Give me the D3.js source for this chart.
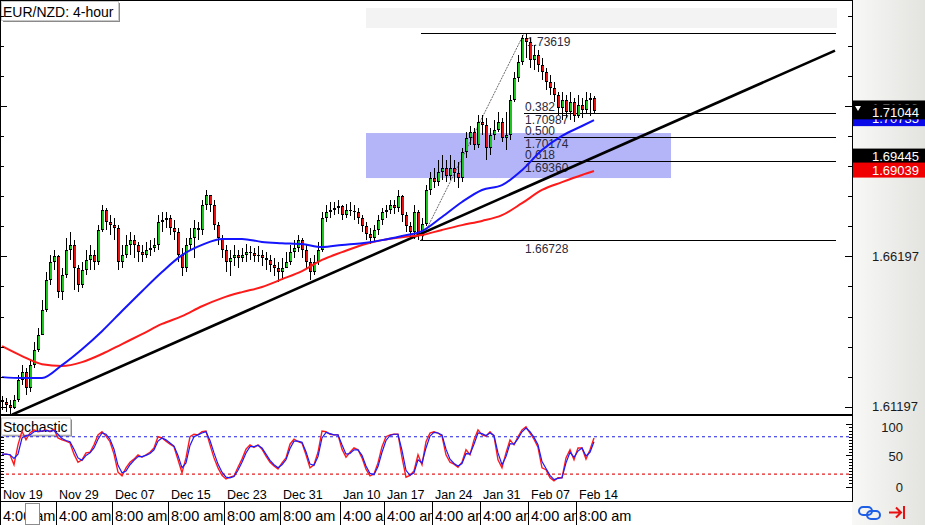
<!DOCTYPE html>
<html><head><meta charset="utf-8">
<script src="https://cdn.jsdelivr.net/npm/d3@7"></script>
<style>
html,body{margin:0;padding:0;background:#fff;overflow:hidden}
svg{display:block;font-family:"Liberation Sans",Arial,sans-serif}
</style></head><body>
<svg id="c" width="925" height="525"></svg>
<script>
// ---------- data ----------
const firstOpen = 1.6141;
const closes = [
1.6135,1.6125,1.6115,1.6141,1.6208,1.6235,1.6181,1.6258,1.6308,1.6358,
1.6441,1.6541,1.6601,1.6621,1.6501,1.6558,1.6641,1.6658,1.6581,1.6524,
1.6574,1.6608,1.6624,1.6601,1.6708,1.6774,1.6734,1.6724,1.6714,1.6601,
1.6624,1.6658,1.6674,1.6658,1.6634,1.6624,1.6641,1.6648,1.6658,1.6734,
1.6741,1.6747,1.6714,1.6701,1.6624,1.6581,1.6658,1.6681,1.6714,1.6708,
1.6791,1.6824,1.6791,1.6724,1.6681,1.6641,1.6601,1.6614,1.6624,1.6614,
1.6624,1.6634,1.6630,1.6621,1.6624,1.6614,1.6608,1.6591,1.6581,1.6568,
1.6581,1.6601,1.6634,1.6648,1.6674,1.6641,1.6601,1.6568,1.6601,1.6641,
1.6747,1.6767,1.6774,1.6781,1.6787,1.6757,1.6774,1.6770,1.6767,1.6747,
1.6721,1.6694,1.6681,1.6708,1.6741,1.6767,1.6774,1.6791,1.6781,1.6821,
1.6757,1.6721,1.6701,1.6767,1.6688,1.6728,1.6841,1.6881,1.6867,1.6901,
1.6914,1.6887,1.6914,1.6897,1.6881,1.6967,1.7014,1.7034,1.6991,1.7067,
1.7057,1.6981,1.7024,1.7041,1.7067,1.7014,1.7024,1.7140,1.7214,1.7267,
1.7347,1.7334,1.7274,1.7290,1.7257,1.7234,1.7200,1.7180,1.7157,1.7114,
1.7140,1.7100,1.7134,1.7087,1.7124,1.7107,1.7140,1.7147,1.71044];
const highs = [
1.6155,1.6148,1.6141,1.6158,1.6225,1.6258,1.6248,1.6275,1.6335,1.6381,
1.6474,1.6568,1.6624,1.6641,1.6624,1.6581,1.6681,1.6701,1.6674,1.6591,
1.6601,1.6641,1.6658,1.6641,1.6724,1.6791,1.6781,1.6757,1.6747,1.6724,
1.6658,1.6691,1.6701,1.6691,1.6668,1.6658,1.6668,1.6674,1.6681,1.6757,
1.6767,1.6767,1.6757,1.6741,1.6714,1.6648,1.6681,1.6714,1.6741,1.6734,
1.6807,1.6841,1.6824,1.6807,1.6734,1.6691,1.6658,1.6641,1.6658,1.6641,
1.6648,1.6661,1.6654,1.6648,1.6654,1.6641,1.6634,1.6624,1.6614,1.6601,
1.6614,1.6634,1.6658,1.6674,1.6691,1.6681,1.6658,1.6614,1.6624,1.6668,
1.6767,1.6791,1.6801,1.6801,1.6807,1.6791,1.6794,1.6801,1.6791,1.6781,
1.6757,1.6734,1.6714,1.6724,1.6757,1.6781,1.6791,1.6807,1.6807,1.6841,
1.6824,1.6767,1.6734,1.6791,1.6774,1.6747,1.6857,1.6901,1.6914,1.6941,
1.6957,1.6941,1.6957,1.6941,1.6934,1.6981,1.7034,1.7054,1.7047,1.7090,
1.7090,1.7080,1.7047,1.7074,1.7100,1.7080,1.7100,1.7157,1.7234,1.7290,
1.7357,1.73619,1.7347,1.7324,1.7307,1.7280,1.7247,1.7224,1.7200,1.7167,
1.7167,1.7157,1.7167,1.7147,1.7157,1.7147,1.7167,1.7164,1.7154];
const lows = [
1.6108,1.6101,1.6095,1.6111,1.6135,1.6191,1.6158,1.6168,1.6248,1.6301,
1.6358,1.6434,1.6524,1.6574,1.6481,1.6474,1.6548,1.6608,1.6508,1.6501,
1.6514,1.6558,1.6574,1.6574,1.6591,1.6701,1.6708,1.6691,1.6674,1.6574,
1.6581,1.6614,1.6624,1.6614,1.6601,1.6601,1.6614,1.6621,1.6634,1.6641,
1.6701,1.6714,1.6691,1.6674,1.6601,1.6554,1.6568,1.6641,1.6614,1.6674,
1.6691,1.6774,1.6767,1.6708,1.6658,1.6614,1.6568,1.6554,1.6588,1.6581,
1.6601,1.6601,1.6608,1.6601,1.6601,1.6588,1.6574,1.6568,1.6554,1.6534,
1.6541,1.6581,1.6591,1.6614,1.6634,1.6614,1.6581,1.6541,1.6558,1.6591,
1.6634,1.6734,1.6747,1.6757,1.6761,1.6741,1.6747,1.6754,1.6741,1.6728,
1.6701,1.6674,1.6661,1.6668,1.6691,1.6724,1.6747,1.6761,1.6761,1.6767,
1.6734,1.6701,1.6681,1.6678,1.6675,1.66728,1.6721,1.6824,1.6847,1.6854,
1.6874,1.6867,1.6874,1.6867,1.6847,1.6867,1.6947,1.6991,1.6974,1.6981,
1.7024,1.6941,1.6957,1.7007,1.7034,1.7001,1.6974,1.7007,1.7134,1.7200,
1.7257,1.7280,1.7247,1.7240,1.7234,1.7207,1.7174,1.7157,1.7134,1.7090,
1.7074,1.7080,1.7074,1.7067,1.7080,1.7080,1.7094,1.7087,1.7097];

const maIdx = [0,5,10,15,20,25,30,35,40,45,50,55,60,65,70,75,80,85,90,95,100,105,110,115,120,125,130,135,140,145,148];
const maBlue = [1.6218,1.6215,1.6215,1.6258,1.6311,1.6371,1.6438,1.6504,1.6568,1.6624,1.6658,1.6678,1.6678,1.6668,1.6664,1.6661,1.6651,1.6658,1.6664,1.6674,1.6688,1.6704,1.6751,1.6801,1.6841,1.6857,1.6907,1.6974,1.7021,1.7054,1.70735];
const maRed  = [1.6321,1.6288,1.6261,1.6255,1.6268,1.6295,1.6328,1.6361,1.6395,1.6421,1.6454,1.6481,1.6501,1.6518,1.6544,1.6571,1.6608,1.6634,1.6658,1.6674,1.6684,1.6691,1.6708,1.6724,1.6738,1.6757,1.6797,1.6841,1.6867,1.6891,1.69039];

const stochK = [
51,52,51,35,67,89,75,86,91,88, 89,91,88,92,78,75,73,70,52,39,
43,54,55,67,83,88,81,72,52,23, 17,30,39,44,51,47,51,55,62,80,
78,73,68,64,43,22,46,80,84,83, 88,89,67,46,30,18,12,15,17,31,
44,60,67,63,67,60,49,39,33,28, 38,46,68,76,72,70,51,30,35,55,
89,88,84,83,83,60,47,55,62,59, 46,28,17,20,38,64,80,83,84,84,
47,15,18,25,51,35,72,86,88,86, 81,51,39,36,31,39,59,51,75,91,
83,81,88,81,43,30,54,75,67,80, 91,96,86,76,63,30,27,14,9,14,
14,46,59,43,62,62,44,59,78];
const stochD = [
52,52,51,45,52,78,82,83,88,89, 89,90,89,90,84,77,74,72,60,46,
42,50,54,62,76,86,84,76,60,34, 22,25,35,42,48,48,50,53,59,73,
78,75,70,65,50,30,38,66,80,83, 86,88,74,54,36,23,15,14,16,26,
39,54,64,64,66,62,52,42,35,30, 35,43,61,73,73,71,56,36,34,48,
78,87,85,83,83,67,52,53,59,59, 50,33,21,19,32,55,74,82,84,84,
58,26,18,22,43,38,62,81,87,86, 83,60,44,37,33,37,53,52,68,86,
85,82,86,82,54,35,48,69,68,77, 88,94,88,79,67,40,29,18,11,13,
14,38,55,47,57,62,49,55,72];
const stochLevels = [80, 20];

const dateLabels = ["Nov 19","Nov 29","Dec 07","Dec 15","Dec 23","Dec 31","Jan 10","Jan 17","Jan 24","Jan 31","Feb 07","Feb 14"];
const timeLabels = ["4:00 am","4:00 am","8:00 am","8:00 am","8:00 am","8:00 am","4:00 am","4:00 am","4:00 am","4:00 am","4:00 am","8:00 am"];
const labelIdx = [0,14,28,42,56,70,85,96,108,120,132,144];

const priceTicks = [1.61197,1.62197,1.63197,1.64197,1.65197,1.66197,1.67197,1.68197,1.69197,1.70197,1.71197,1.72197,1.73197,1.74197];
const priceLabels = [1.61197, 1.66197, 1.71197];
const stochTicks = [0,5,10,15,20,25,30,35,40,45,50,55,60,65,70,75,80,85,90,95,100];
const stochLabels = [100, 50, 0];

const fibHigh = 1.73619, fibLow = 1.66728;
const fibLevels = ["0.382","0.500","0.618"];
const fibPrices = [1.70987, 1.70174, 1.69360];
const fibIdx = {low:104.75, high:130.5, end:208.4};
const zoneIdx = [91, 167.25];
const zonePrices = [1.70305, 1.68807];
const trendIdx = [2.5, 208.25];
const trendPrices = [1.6093, 1.7305];

const lastPrice = 1.71044, hiddenPrice = 1.71106, otherPrice = 1.69445;
const blueLast = 1.70735, redLast = 1.69039;

// ---------- drawing ----------
const W = 925, H = 525, PR = 852, MB = 415;
const svg = d3.select("#c");
const x = d3.scaleLinear().domain([0, 148]).range([2, 594]);
const y = d3.scaleLinear().domain([1.60919, 1.74734]).range([MB, 0]);
const ys = d3.scaleLinear().domain([0, 100]).range([486.5, 424.3]);

const defs = svg.append("defs");
const grad = defs.append("linearGradient").attr("id","rp").attr("x1",0).attr("x2",1).attr("y1",0).attr("y2",0);
grad.append("stop").attr("offset",0).attr("stop-color","#f8f8f6");
grad.append("stop").attr("offset",1).attr("stop-color","#e3e3e0");
defs.append("clipPath").attr("id","cm").append("rect").attr("x",0).attr("y",0).attr("width",PR).attr("height",MB);
defs.append("clipPath").attr("id","cs").append("rect").attr("x",0).attr("y",416).attr("width",PR).attr("height",85);

svg.append("rect").attr("width",W).attr("height",H).attr("fill","#fff");
svg.append("rect").attr("x",PR).attr("y",0).attr("width",W-PR).attr("height",H).attr("fill","url(#rp)");

// main pane
const g = svg.append("g").attr("clip-path","url(#cm)");
g.append("rect").attr("x",366).attr("y",8).attr("width",471).attr("height",20).attr("fill","#f3f3f3");
g.append("rect").attr("x",x(zoneIdx[0])).attr("y",y(zonePrices[0]))
  .attr("width",x(zoneIdx[1])-x(zoneIdx[0])).attr("height",y(zonePrices[1])-y(zonePrices[0]))
  .attr("fill","#b4b4f8");

// fib lines
const fg = g.append("g").attr("shape-rendering","crispEdges").attr("stroke","#000").attr("stroke-width",1);
const hline = (i0,i1,p)=>fg.append("line").attr("x1",x(i0)).attr("x2",x(i1)).attr("y1",Math.round(y(p))+0.5).attr("y2",Math.round(y(p))+0.5);
hline(fibIdx.low, fibIdx.end, fibHigh);
hline(fibIdx.low-0.25, fibIdx.end, fibLow);
fibPrices.forEach(p=>hline(fibIdx.high, fibIdx.end, p));
g.append("line").attr("x1",x(fibIdx.low)).attr("y1",y(fibLow)).attr("x2",x(fibIdx.high)).attr("y2",y(fibHigh))
  .attr("stroke","#444").attr("stroke-width",0.8).attr("stroke-dasharray","2,1");

const tg = g.append("g").attr("font-size","12px").attr("fill","#2a2a3c");
const tx = x(fibIdx.high) + 1;
tg.append("text").attr("x",tx+2).attr("y",y(fibHigh)+13).text(fibHigh.toFixed(5));
fibPrices.forEach((p,k)=>{
  tg.append("text").attr("x",tx).attr("y",y(p)-2).text(fibLevels[k]);
  tg.append("text").attr("x",tx).attr("y",y(p)+11).text(p.toFixed(5));
});
tg.append("text").attr("x",tx).attr("y",y(fibLow)+13).text(fibLow.toFixed(5));

// candles
const candles = closes.map((c,i)=>{
  const o = i===0 ? firstOpen : closes[i-1];
  return {i, o, c, h: Math.max(highs[i],o,c), l: Math.min(lows[i],o,c)};
});
const cg = g.append("g").attr("shape-rendering","crispEdges");
cg.selectAll("line").data(candles).join("line")
  .attr("x1",d=>Math.round(x(d.i))+0.5).attr("x2",d=>Math.round(x(d.i))+0.5)
  .attr("y1",d=>y(d.h)).attr("y2",d=>y(d.l)).attr("stroke","#000").attr("stroke-width",1);
const bt = d=>Math.round(y(Math.max(d.o,d.c)));
const bh = d=>Math.max(1, Math.round(y(Math.min(d.o,d.c))) - bt(d));
cg.selectAll("rect.o").data(candles).join("rect").attr("class","o")
  .attr("x",d=>Math.round(x(d.i))-1).attr("y",bt).attr("width",3).attr("height",bh).attr("fill","#000");
cg.selectAll("rect.f").data(candles.filter(d=>bh(d)>2)).join("rect").attr("class","f")
  .attr("x",d=>Math.round(x(d.i))).attr("y",d=>bt(d)+1).attr("width",2).attr("height",d=>bh(d)-2)
  .attr("fill",d=>d.c>=d.o ? "#1ec41e" : "#e51010");

// trendline
g.append("path").datum(trendIdx.map((i,k)=>({i, v:trendPrices[k]})))
  .attr("d", d3.line().x(d=>x(d.i)).y(d=>y(d.v)))
  .attr("stroke","#000").attr("stroke-width",2.6).attr("fill","none");

// moving averages
const maLine = d3.line().x(d=>x(d.i)).y(d=>y(d.v)).curve(d3.curveMonotoneX);
g.append("path").datum(maIdx.map((i,k)=>({i, v:maRed[k]}))).attr("d",maLine)
  .attr("stroke","#ff1a1a").attr("stroke-width",2).attr("fill","none");
g.append("path").datum(maIdx.map((i,k)=>({i, v:maBlue[k]}))).attr("d",maLine)
  .attr("stroke","#1414ff").attr("stroke-width",2).attr("fill","none");

// title box
svg.append("rect").attr("x",3).attr("y",3).attr("width",117).attr("height",19).attr("fill","#8a8a8a");
svg.append("rect").attr("x",1.5).attr("y",1.5).attr("width",117).attr("height",19).attr("fill","#fff").attr("stroke","#c8c8c8");
svg.append("text").attr("x",3).attr("y",17).attr("font-size","14px").attr("fill","#000").text("EUR/NZD: 4-hour");

// stochastic pane
const sg = svg.append("g").attr("clip-path","url(#cs)");
sg.append("rect").attr("x",3).attr("y",419.5).attr("width",69).attr("height",17).attr("fill","#8a8a8a");
sg.append("rect").attr("x",1.5).attr("y",418).attr("width",69).attr("height",17).attr("fill","#fff").attr("stroke","#c8c8c8");
sg.append("text").attr("x",3).attr("y",432).attr("font-size","14px").attr("fill","#000").text("Stochastic");
sg.append("line").attr("x1",0).attr("x2",PR).attr("y1",ys(stochLevels[0])).attr("y2",ys(stochLevels[0]))
  .attr("stroke","#2020e0").attr("stroke-width",1.2).attr("stroke-dasharray","3,3");
sg.append("line").attr("x1",0).attr("x2",PR).attr("y1",ys(stochLevels[1])).attr("y2",ys(stochLevels[1]))
  .attr("stroke","#e02020").attr("stroke-width",1.2).attr("stroke-dasharray","3,3");
const sLine = d3.line().x((d,i)=>x(i)).y(d=>ys(d));
sg.append("path").datum(stochK).attr("d",sLine).attr("stroke","#ff1a1a").attr("stroke-width",1.4).attr("fill","none");
sg.append("path").datum(stochD).attr("d",sLine).attr("stroke","#1a1aff").attr("stroke-width",1.2).attr("fill","none");

// separators / borders
const bg = svg.append("g").attr("shape-rendering","crispEdges").attr("stroke","#000");
bg.append("line").attr("x1",0).attr("x2",PR).attr("y1",0.5).attr("y2",0.5);
bg.append("line").attr("x1",0.5).attr("x2",0.5).attr("y1",0).attr("y2",502);
bg.append("line").attr("x1",0).attr("x2",PR).attr("y1",415).attr("y2",415).attr("stroke-width",2);

// left ticks
svg.append("g").attr("shape-rendering","crispEdges").call(
  d3.axisRight(y).tickValues(priceTicks).tickSize(4).tickFormat(""))
  .call(a=>a.select(".domain").remove());
svg.append("g").attr("shape-rendering","crispEdges").call(
  d3.axisRight(y).tickValues(priceLabels).tickSize(7).tickFormat(""))
  .call(a=>a.select(".domain").remove());
svg.append("g").attr("shape-rendering","crispEdges").call(
  d3.axisRight(ys).tickValues(stochTicks.filter(v=>v<=80)).tickSize(4).tickFormat(""))
  .call(a=>a.select(".domain").remove());

// right axis
svg.append("g").attr("transform",`translate(${PR},0)`).attr("shape-rendering","crispEdges")
  .call(d3.axisLeft(y).tickValues(priceTicks).tickSize(4).tickFormat("")).call(a=>a.select(".domain").remove());
svg.append("g").attr("transform",`translate(${PR},0)`).attr("shape-rendering","crispEdges")
  .call(d3.axisLeft(y).tickValues(priceLabels).tickSize(7).tickFormat("")).call(a=>a.select(".domain").remove());
svg.append("g").attr("transform",`translate(${PR},0)`).attr("shape-rendering","crispEdges")
  .call(d3.axisLeft(ys).tickValues(stochTicks).tickSize(3).tickFormat("")).call(a=>a.select(".domain").remove());
svg.append("g").attr("transform",`translate(${PR},0)`).attr("shape-rendering","crispEdges")
  .call(d3.axisLeft(ys).tickValues(stochLabels).tickSize(6).tickFormat("")).call(a=>a.select(".domain").remove());
bg.append("line").attr("x1",PR+0.5).attr("x2",PR+0.5).attr("y1",0).attr("y2",502);

svg.append("g").attr("font-size","13px").attr("fill","#1a1a1a")
  .selectAll("text").data(priceLabels.slice(0,2)).join("text")
  .attr("x",872).attr("y",d=>y(d)+4.5).text(d=>d.toFixed(5));
svg.append("g").attr("font-size","13px").attr("fill","#1a1a1a").attr("text-anchor","end")
  .selectAll("text").data(stochLabels).join("text")
  .attr("x",903).attr("y",d=>Math.max(ys(d)+1,427)+4.5).text(d=>d);

// price boxes (stacked as in the reference, later ones cover earlier ones)
function priceBox(yc, fill, val){
  svg.append("rect").attr("x",PR+1).attr("y",yc-7.5).attr("width",W-PR-1).attr("height",15).attr("fill",fill);
  svg.append("text").attr("x",872).attr("y",yc+4.7).attr("font-size","13px").attr("fill","#fff").text(val.toFixed(5));
}
priceBox(y(hiddenPrice)-1, "#000", hiddenPrice);
priceBox(y(blueLast)-1.5, "#0a0ae8", blueLast);
priceBox(y(lastPrice)+1, "#000", lastPrice);
svg.append("path").attr("d","M855,106 L861,106 L858,111 Z").attr("fill","#fff");
priceBox(y(otherPrice)-2.8, "#000", otherPrice);
priceBox(y(redLast)-1, "#f00000", redLast);

// bottom date axis
const dg = svg.append("g").attr("font-size","12.5px").attr("fill","#000");
dateLabels.forEach((t,k)=>{
  dg.append("text").attr("x",x(labelIdx[k])-2+3).attr("y",499).text(t);
});
bg.append("line").attr("x1",0).attr("x2",PR).attr("y1",501.5).attr("y2",501.5);

// bottom time row
const trow = svg.append("g");
labelIdx.forEach((idx,k)=>{
  const x0 = Math.round(x(idx)-2);
  const x1 = k < labelIdx.length-1 ? Math.round(x(labelIdx[k+1])-2) : PR;
  trow.append("rect").attr("x",x0).attr("y",502).attr("width",x1-x0).attr("height",23).attr("fill","#fff");
  trow.append("line").attr("x1",x0+0.5).attr("x2",x0+0.5).attr("y1",502).attr("y2",525).attr("stroke","#000").attr("shape-rendering","crispEdges");
  trow.append("text").attr("x",x0+3).attr("y",521).attr("font-size","14.5px").attr("fill","#000").text(timeLabels[k]);
});
trow.append("rect").attr("x",25.5).attr("y",503.5).attr("width",14).attr("height",21).attr("fill","#fff").attr("stroke","#8c8c8c");

// icons
svg.append("rect").attr("x",859).attr("y",507).attr("width",13).attr("height",8).attr("rx",4)
  .attr("fill","none").attr("stroke","#1f5fe6").attr("stroke-width",2);
svg.append("rect").attr("x",867).attr("y",511).attr("width",13).attr("height",8).attr("rx",4)
  .attr("fill","none").attr("stroke","#1f5fe6").attr("stroke-width",2);
svg.append("path").attr("d","M889,512.5 H901 M896,507.5 L901,512.5 L896,517.5 M904,506 V519")
  .attr("fill","none").attr("stroke","#e81010").attr("stroke-width",2);
</script>
</body></html>
